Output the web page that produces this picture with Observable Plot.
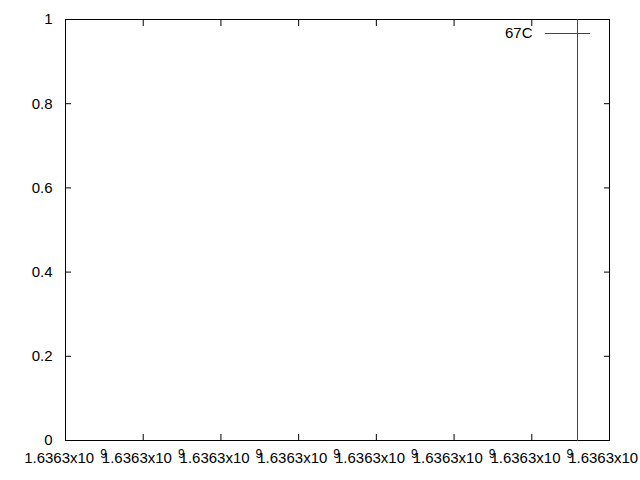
<!DOCTYPE html>
<html><head><meta charset="utf-8">
<script src="https://cdn.jsdelivr.net/npm/d3@7"></script>
<script src="https://cdn.jsdelivr.net/npm/@observablehq/plot@0.6"></script>
<style>
body{margin:0;background:#fff}
svg{font-family:"Liberation Sans",Arial,sans-serif}
</style>
</head><body><div id="chart"></div>
<script>
const seriesName = "67C";
const seriesColor = "#9400d3";
const lineX = [1636300659, 1636300659];
const lineY = [0, 1];
const xTicks = [1636300000, 1636300100, 1636300200, 1636300300, 1636300400, 1636300500, 1636300600, 1636300700];
const xTickLabels = ["1.6363x10^9","1.6363x10^9","1.6363x10^9","1.6363x10^9","1.6363x10^9","1.6363x10^9","1.6363x10^9","1.6363x10^9"];
const yTicks = [0, 0.2, 0.4, 0.6, 0.8, 1];
const yTickLabels = ["0", "0.2", "0.4", "0.6", "0.8", "1"];

const data = lineX.map((x, i) => ({x, y: lineY[i]}));
const W = 640, H = 480, mL = 65, mR = 31, mT = 19, mB = 40;

const plot = Plot.plot({
  width: W, height: H,
  marginLeft: mL, marginRight: mR, marginTop: mT, marginBottom: mB,
  style: {fontFamily: '"Liberation Sans", Arial, sans-serif', fontSize: "15px", background: "white", color: "black", overflow: "visible"},
  x: {domain: [xTicks[0], xTicks[xTicks.length - 1]], label: null},
  y: {domain: [yTicks[0], yTicks[yTicks.length - 1]], label: null},
  marks: [
    Plot.axisX({ticks: xTicks, tickSize: -6, tickFormat: () => "", label: null, anchor: "bottom"}),
    Plot.axisX({ticks: xTicks, tickSize: -6, tickFormat: () => "", label: null, anchor: "top"}),
    Plot.axisY({ticks: yTicks, tickSize: -6, tickFormat: () => "", label: null, anchor: "left"}),
    Plot.axisY({ticks: yTicks, tickSize: -6, tickFormat: () => "", label: null, anchor: "right"}),
    Plot.axisX({ticks: xTicks, tickSize: 0, tickPadding: 12, tickFormat: (d) => xTickLabels[xTicks.indexOf(d)], label: null, anchor: "bottom", fontSize: 15}),
    Plot.axisY({ticks: yTicks, tickSize: 0, tickPadding: 13, tickFormat: (d) => yTickLabels[yTicks.indexOf(d)], label: null, anchor: "left", fontSize: 15}),
    Plot.frame({stroke: "black", strokeWidth: 1}),
    Plot.text([seriesName], {frameAnchor: "top-right", dx: -77, dy: 14, textAnchor: "end", lineAnchor: "middle", fill: "black", fontSize: 15}),
    Plot.line(data, {x: "x", y: "y", stroke: seriesColor, strokeWidth: 1, shapeRendering: "crispEdges"})
  ]
});

// superscript exponents on x tick labels
d3.select(plot).selectAll('g[aria-label="x-axis tick label"] text').each(function() {
  const t = d3.select(this);
  const s = t.text();
  const parts = s.split("^");
  if (parts.length === 2) {
    t.text(parts[0]);
    t.append("tspan").attr("dx", "6").attr("dy", "-0.4em").attr("font-size", "12px").text(parts[1]);
  }
});

// legend sample line
d3.select(plot).append("line")
  .attr("x1", W - mR - 64).attr("x2", W - mR - 19)
  .attr("y1", mT + 14.5).attr("y2", mT + 14.5)
  .attr("stroke", seriesColor).attr("stroke-width", 1);

document.getElementById("chart").appendChild(plot);
</script>
</body></html>
